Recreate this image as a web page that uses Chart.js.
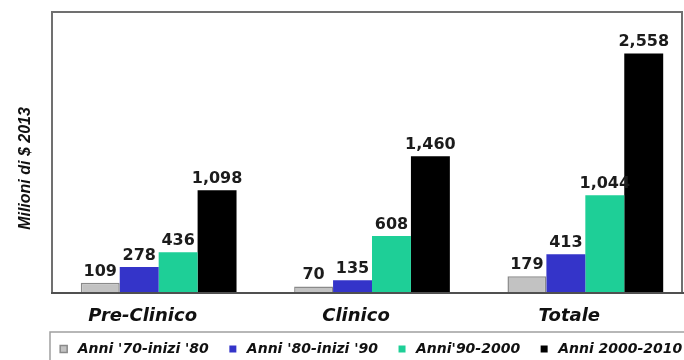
<!DOCTYPE html>
<html><head><meta charset="utf-8">
<script src="https://cdn.jsdelivr.net/npm/chart.js@4.4.0/dist/chart.umd.min.js"></script>
<style>
html,body{margin:0;padding:0;background:#fff;overflow:hidden;}
#wrap{width:684px;height:360px;overflow:hidden;position:relative;background:#fff;}
#box{width:737px;height:370px;position:absolute;left:0;top:0;}
</style></head><body>
<div id="wrap"><div id="box"><canvas id="c"></canvas></div></div>
<script>
const categories = ['Pre-Clinico', 'Clinico', 'Totale'];
const seriesNames = ["Anni '70-inizi '80", "Anni '80-inizi '90", "Anni'90-2000", "Anni 2000-2010"];
const s70 = [109, 70, 179];
const s80 = [278, 135, 413];
const s90 = [436, 608, 1044];
const s2000 = [1098, 1460, 2558];
const yTitle = 'Milioni di $ 2013';

const colors = ['#c2c2c2', '#3434c9', '#1ecf97', '#000000'];
const borders = ['#8a8a8a', '#3434c9', '#1ecf97', '#000000'];
const bwidths = [1.5, 0, 0, 0];
const seriesData = [s70, s80, s90, s2000];

const framePlugin = {
  id: 'frame',
  afterDatasetsDraw(chart) {
    const ctx = chart.ctx, ca = chart.chartArea;
    ctx.save();
    ctx.strokeStyle = '#707070';
    ctx.lineWidth = 2;
    ctx.beginPath();
    ctx.moveTo(ca.left, ca.bottom);
    ctx.lineTo(ca.left, ca.top);
    ctx.lineTo(ca.right - 10, ca.top);
    ctx.lineTo(ca.right - 10, ca.bottom);
    ctx.stroke();
    ctx.strokeStyle = '#505050';
    ctx.beginPath();
    ctx.moveTo(ca.left - 1, ca.bottom);
    ctx.lineTo(chart.width, ca.bottom);
    ctx.stroke();
    // value labels
    ctx.fillStyle = '#1c1c1c';
    ctx.font = 'bold 16px "DejaVu Sans"';
    ctx.textAlign = 'center';
    ctx.textBaseline = 'alphabetic';
    chart.data.datasets.forEach((ds, i) => {
      const meta = chart.getDatasetMeta(i);
      meta.data.forEach((bar, j) => {
        ctx.fillText(ds.data[j].toLocaleString('en-US'), bar.x, bar.y - 7);
      });
    });
    // y axis title
    ctx.save();
    ctx.translate(ca.left - 26, (ca.top + ca.bottom) / 2 + 16);
    ctx.rotate(-Math.PI / 2);
    ctx.font = 'italic bold 16px "Liberation Sans"';
    ctx.fillStyle = '#111';
    ctx.textAlign = 'center';
    ctx.textBaseline = 'middle';
    ctx.fillText(yTitle, 0, 0);
    ctx.restore();
    // legend frame
    const lg = chart.legend;
    ctx.strokeStyle = '#a0a0a0';
    ctx.lineWidth = 1.5;
    ctx.strokeRect(ca.left - 2, lg.top + 7, chart.width + 20, 100);
    ctx.restore();
  }
};

new Chart(document.getElementById('c'), {
  type: 'bar',
  data: {
    labels: categories,
    datasets: seriesData.map((d, i) => ({
      label: seriesNames[i],
      data: d,
      backgroundColor: colors[i],
      borderColor: borders[i],
      borderWidth: bwidths[i],
      categoryPercentage: 0.73,
      barPercentage: 1.0
    }))
  },
  options: {
    responsive: true,
    maintainAspectRatio: false,
    animation: false,
    devicePixelRatio: 1,
    layout: { padding: { left: 10, right: 8, top: 12, bottom: 4 } },
    plugins: {
      tooltip: { enabled: false },
      legend: {
        position: 'bottom',
        align: 'center',
        labels: {
          usePointStyle: true,
          pointStyle: 'rect',
          boxWidth: 14,
          boxHeight: 7,
          padding: 17,
          color: '#111',
          font: { family: 'DejaVu Sans', size: 14, weight: 'bold', style: 'italic' }
        }
      }
    },
    scales: {
      x: {
        grid: { display: false, drawTicks: false },
        border: { display: false },
        afterFit: (s) => { s.height = 32; },
        ticks: {
          color: '#111',
          padding: 13,
          labelOffset: -16,
          maxRotation: 0,
          font: { family: 'DejaVu Sans', size: 18, weight: 'bold', style: 'italic' }
        }
      },
      y: {
        min: 0,
        max: 3000,
        grid: { display: false, drawTicks: false },
        border: { display: false },
        ticks: { display: false },
        afterFit: (s) => { s.width = 42; }
      },
      yR: {
        position: 'right',
        display: true,
        min: 0,
        max: 3000,
        grid: { display: false, drawTicks: false },
        border: { display: false },
        ticks: { display: false },
        afterFit: (s) => { s.width = 37; }
      }
    }
  },
  plugins: [framePlugin]
});
</script>
</body></html>
